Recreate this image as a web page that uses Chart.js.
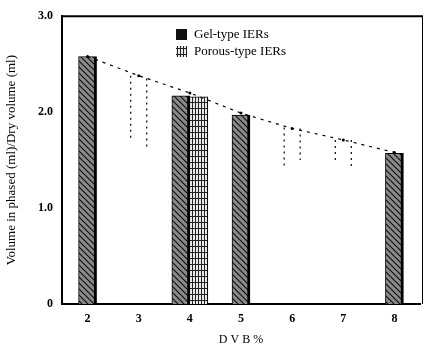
<!DOCTYPE html>
<html>
<head>
<meta charset="utf-8">
<script src="https://cdn.jsdelivr.net/npm/chart.js@4.4.0/dist/chart.umd.min.js"></script>
<style>
  html, body { margin: 0; padding: 0; background: #fff; }
  #wrap { width: 424px; height: 351px; }
</style>
</head>
<body>
<div id="wrap"><canvas id="dvbChart"></canvas></div>
<script>
// data
var dvbLabels = ["2", "3", "4", "5", "6", "7", "8"];
var gelValues = [2.58, null, 2.17, 1.97, null, null, 1.57];
var porousValues = [null, null, 2.16, null, null, null, null];
var trendValues = [2.58, 2.38, 2.2, 1.99, 1.83, 1.71, 1.58];
// dotted range lines at the missing points
var gelRangeLow = [null, 1.71, null, null, 1.43, 1.49, null];
var gelRangeHigh = [null, 2.38, null, null, 1.84, 1.71, null];
var porousRangeLow = [null, 1.64, null, null, 1.5, 1.4, null];
var porousRangeHigh = [null, 2.35, null, null, 1.83, 1.71, null];

var serif = "'Liberation Serif', 'DejaVu Serif', serif";

// make the hatch fills
function makePattern(kind) {
  var c = document.createElement("canvas");
  c.width = 6;
  c.height = 6;
  var p = c.getContext("2d");
  if (kind === "gel") {
    p.fillStyle = "#8a8a8a";
    p.fillRect(0, 0, 6, 6);
    p.strokeStyle = "#111";
    p.lineWidth = 1.2;
    p.beginPath();
    p.moveTo(0, 0); p.lineTo(6, 6);
    p.moveTo(-3, 3); p.lineTo(3, 9);
    p.moveTo(3, -3); p.lineTo(9, 3);
    p.stroke();
  } else {
    p.fillStyle = "#e8e8e8";
    p.fillRect(0, 0, 6, 6);
    p.fillStyle = "#222";
    p.fillRect(0, 0, 6, 1);
    p.fillRect(0, 0, 1, 6);
    p.fillRect(3, 0, 1, 6);
  }
  return document.createElement("canvas").getContext("2d").createPattern(c, "repeat");
}
var gelFill = makePattern("gel");
var porousFill = makePattern("porous");

// frame, dotted range lines and the legend inside the plot
var extras = {
  id: "extras",
  afterDatasetsDraw: function (chart) {
    var ctx = chart.ctx;
    var a = chart.chartArea;
    var x = chart.scales.x;
    var y = chart.scales.y;
    var right = chart.width - 1.5;
    ctx.save();
    ctx.strokeStyle = "#000";
    ctx.lineWidth = 2;
    ctx.beginPath();
    ctx.moveTo(a.left, a.top);
    ctx.lineTo(right + 0.5, a.top);
    ctx.stroke();
    ctx.lineWidth = 1;
    ctx.beginPath();
    ctx.moveTo(right, a.top);
    ctx.lineTo(right, a.bottom);
    ctx.stroke();

    ctx.setLineDash([2, 4]);
    ctx.lineWidth = 1.2;
    for (var i = 0; i < dvbLabels.length; i++) {
      var cx = x.getPixelForValue(i);
      if (gelRangeLow[i] != null) {
        ctx.beginPath();
        ctx.moveTo(cx - 8, y.getPixelForValue(gelRangeHigh[i]));
        ctx.lineTo(cx - 8, y.getPixelForValue(gelRangeLow[i]));
        ctx.stroke();
      }
      if (porousRangeLow[i] != null) {
        ctx.beginPath();
        ctx.moveTo(cx + 8, y.getPixelForValue(porousRangeHigh[i]));
        ctx.lineTo(cx + 8, y.getPixelForValue(porousRangeLow[i]));
        ctx.stroke();
      }
    }
    ctx.setLineDash([]);

    var lx = 176, ly = 29;
    var sets = [chart.data.datasets[0], chart.data.datasets[1]];
    ctx.font = "13px " + serif;
    ctx.textBaseline = "middle";
    sets.forEach(function (ds, k) {
      var top = ly + k * 17;
      ctx.fillStyle = k === 0 ? "#111" : porousFill;
      ctx.fillRect(lx, top, 11, 11);
      ctx.fillStyle = "#000";
      ctx.fillText(ds.label, lx + 18, top + 6);
    });
    ctx.restore();
  }
};

var data = {
  labels: dvbLabels,
  datasets: [
    {
      type: "bar",
      label: "Gel-type IERs",
      data: gelValues,
      backgroundColor: gelFill,
      borderColor: "#000",
      borderWidth: { left: 1, right: 3, top: 1, bottom: 0 },
      borderSkipped: false,
      barThickness: 18,
      skipNull: true,
      order: 2
    },
    {
      type: "bar",
      label: "Porous-type IERs",
      data: porousValues,
      backgroundColor: porousFill,
      borderColor: "#000",
      borderWidth: { left: 0, right: 1, top: 1, bottom: 0 },
      borderSkipped: false,
      barThickness: 18,
      skipNull: true,
      order: 2
    },
    {
      type: "line",
      label: "trend",
      data: trendValues,
      borderColor: "#000",
      borderWidth: 1.2,
      borderDash: [3, 5],
      pointRadius: 1.5,
      pointBackgroundColor: "#000",
      pointBorderWidth: 0,
      fill: false,
      order: 1
    }
  ]
};

var options = {
  responsive: true,
  maintainAspectRatio: false,
  animation: false,
  layout: { padding: { top: 16, right: 0, left: 0, bottom: 0 } },
  plugins: {
    legend: { display: false },
    tooltip: { enabled: false }
  },
  scales: {
    x: {
      grid: { display: false, drawTicks: false },
      border: { display: true, color: "#000", width: 2 },
      ticks: { color: "#000", font: { family: serif, size: 12, weight: "bold" }, padding: 8 },
      title: {
        display: true,
        text: "D V B %",
        color: "#000",
        font: { family: serif, size: 12 },
        padding: { top: 4 }
      },
      afterFit: function (s) { s.height = 47; }
    },
    y: {
      min: 0,
      max: 3,
      grid: { display: false, drawTicks: false },
      border: { display: true, color: "#000", width: 2 },
      ticks: {
        stepSize: 0.5,
        color: "#000",
        padding: 9,
        font: { family: serif, size: 12, weight: "bold" },
        callback: function (v) {
          if (v === 0) return "0";
          return v % 1 === 0 ? v.toFixed(1) : "";
        }
      },
      title: {
        display: true,
        text: "Volume in phased (ml)/Dry volume (ml)",
        color: "#000",
        font: { family: serif, size: 13 },
        padding: { bottom: 0 }
      },
      afterFit: function (s) { s.width = 62; }
    }
  }
};

var myChart = new Chart(document.getElementById("dvbChart").getContext("2d"), {
  data: data,
  options: options,
  plugins: [extras]
});
</script>
</body>
</html>
